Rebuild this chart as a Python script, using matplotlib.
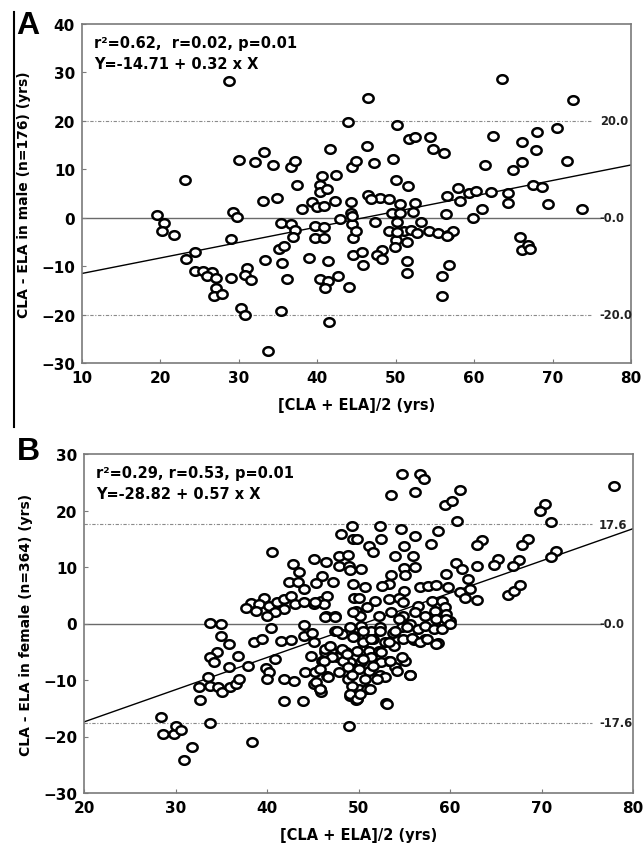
import numpy as np
import matplotlib
matplotlib.use("Agg")
import matplotlib.pyplot as plt
from matplotlib.path import Path
from matplotlib.lines import Line2D

plt.rcParams['font.family'] = ['DejaVu Sans']
plt.rcParams['font.weight'] = 'bold'

# ---- Panel A: male (n=176) ----
male_mean = [28.8, 43.9, 41.6, 30.0, 32.0, 33.2, 34.4, 36.7, 37.1, 44.4, 23.1, 40.6, 42.4, 37.4,
             40.4, 40.3, 41.2, 33.1, 34.9, 39.3, 42.2, 38.0, 40.0, 40.8, 44.3, 44.3, 19.6, 29.3,
             29.8, 42.9, 20.5, 20.2, 21.7, 35.4, 36.6, 37.1, 36.9, 39.7, 40.9, 44.4, 39.7, 40.9,
             44.6, 29.0, 24.4, 23.3, 35.1, 35.7, 44.6, 33.3, 35.5, 39.0, 41.4, 24.4, 25.4, 26.6,
             25.9, 27.1, 31.0, 30.8, 31.5, 29.0, 36.1, 40.3, 41.4, 41.0, 42.7, 44.0, 27.1, 26.8,
             27.8, 30.3, 30.8, 35.4, 41.5, 33.7,
             63.5, 46.5, 72.6, 50.2, 70.6, 68.0, 62.4, 66.1, 67.9, 51.7, 52.5, 54.4, 54.8, 56.2,
             46.4, 45.0, 47.2, 49.7, 61.4, 66.1, 71.9, 64.9, 50.1, 51.6, 67.5, 68.7, 46.5, 48.0,
             49.1, 50.5, 52.5, 46.9, 56.6, 57.9, 58.2, 59.3, 60.2, 62.2, 64.3, 64.3, 69.4, 73.8,
             61.0, 59.8, 56.4, 49.5, 50.6, 52.2, 47.4, 50.2, 53.2, 49.2, 51.0, 52.0, 52.7, 54.3,
             55.4, 56.7, 57.3, 50.1, 51.4, 49.9, 48.2, 47.6, 48.2, 45.7, 45.8, 51.4, 51.5, 55.9,
             56.8, 55.9, 65.8, 66.1, 66.9, 67.1, 44.9, 44.4, 56.6, 50.2]
male_diff = [28.2, 19.8, 14.2, 12.0, 11.6, 13.6, 10.9, 10.5, 11.8, 10.5, 7.7, 8.6, 8.9, 6.8,
             6.7, 5.3, 5.9, 3.4, 4.1, 3.2, 3.4, 1.7, 2.2, 2.5, 3.2, 1.0, 0.6, 1.2,
             0.2, -0.2, -1.0, -2.7, -3.5, -1.0, -1.2, -2.6, -4.0, -1.8, -1.9, -1.2, -4.1, -4.1,
             -4.1, -4.3, -7.1, -8.5, -6.5, -5.8, -7.8, -8.7, -9.3, -8.3, -9.0, -11.1, -10.9, -11.2,
             -12.0, -12.5, -10.4, -11.9, -12.9, -12.4, -12.6, -12.6, -13.0, -14.5, -12.0, -14.3, -14.5, -16.2,
             -15.8, -18.6, -20.0, -19.3, -21.5, -27.6,
             28.6, 24.7, 24.4, 19.2, 18.6, 17.8, 16.9, 15.6, 13.9, 16.2, 16.7, 16.7, 14.2, 13.4,
             14.9, 11.8, 11.3, 12.2, 10.9, 11.6, 11.7, 9.9, 7.7, 6.5, 6.7, 6.3, 4.6, 4.0,
             3.8, 2.9, 3.0, 3.9, 4.5, 6.1, 3.4, 5.1, 5.5, 5.4, 5.1, 3.1, 2.9, 1.9,
             1.7, 0.0, 0.8, 1.0, 1.0, 1.2, -0.9, -0.8, -0.9, -2.7, -2.8, -2.6, -3.1, -2.8,
             -3.1, -3.6, -2.8, -4.5, -5.0, -6.1, -6.6, -7.8, -8.6, -7.0, -9.8, -9.0, -11.4, -12.1,
             -9.8, -16.2, -3.9, -6.6, -5.7, -6.4, -2.8, 0.4, -3.7, -2.9]

# ---- Panel B: female (n=364) ----
female_mean = [49.3, 48.1, 49.4, 40.6, 45.1, 46.5, 47.9, 48.8, 47.9, 49.0, 42.8, 43.5, 46.0, 49.1,
               42.4, 43.4, 45.4, 47.2, 49.4, 44.0, 39.7, 38.2, 39.1, 37.7, 38.8, 40.2, 41.1, 41.9,
               42.6, 41.9, 40.9, 40.0, 43.1, 44.0, 45.1, 45.9, 46.6, 46.2, 46.4, 47.4, 49.5, 49.7,
               33.8, 35.0, 35.0, 35.8, 40.4, 44.0, 44.0, 38.6, 39.5, 41.5, 42.6, 47.4, 48.2, 49.1,
               49.5, 34.5, 33.8, 34.2, 36.8, 35.8, 37.9, 40.9, 39.9, 40.2, 44.8, 46.2, 47.0, 47.7,
               48.6, 49.1, 49.4, 44.2, 45.3, 46.6, 47.9, 48.8, 33.5, 32.6, 33.8, 34.6, 35.1, 36.0,
               36.6, 36.9, 40.0, 41.9, 43.0, 45.1, 45.8, 45.9, 32.7, 41.9, 43.9, 49.1, 49.7, 28.4,
               28.6, 29.8, 30.0, 30.6, 33.8, 31.8, 30.9, 38.4, 49.0, 46.0, 46.3,
               54.7, 56.7, 57.2, 53.6, 56.2, 61.1, 59.4, 60.2, 60.8, 77.9, 70.4, 69.8, 71.0, 52.4,
               54.6, 58.7, 56.2, 57.9, 52.5, 51.1, 51.6, 55.0, 54.0, 56.0, 49.8, 63.5, 62.9, 68.5,
               67.9, 71.6, 71.0, 65.3, 64.8, 67.5, 66.9, 62.9, 60.7, 61.3, 59.6, 55.0, 56.2, 53.6,
               55.1, 50.3, 53.3, 52.6, 50.7, 55.0, 56.7, 57.6, 58.5, 59.8, 61.1, 62.2, 62.0, 61.6,
               62.9, 66.3, 67.0, 67.6, 50.0, 51.8, 53.3, 54.4, 54.9, 56.5, 58.0, 59.1, 59.5, 58.4,
               59.6, 60.0, 59.3, 58.5, 57.3, 56.2, 54.9, 53.6, 52.2, 50.9, 50.2, 50.3, 51.4, 52.4,
               53.8, 54.7, 55.6, 56.5, 57.3, 58.3, 58.7, 57.3, 56.1, 54.9, 53.9, 52.9, 51.6, 50.5,
               49.8, 51.1, 52.2, 53.3, 55.1, 54.0, 55.6, 52.5, 51.4, 50.3, 52.3, 51.1, 50.0, 50.7,
               50.0, 50.9, 52.9, 49.8, 53.0,
               45.2, 46.3, 47.4, 47.6, 44.9, 45.1, 46.3, 46.9, 47.1, 48.2, 48.3, 48.7, 48.9, 46.2,
               45.8, 46.7, 45.4, 45.8, 49.3, 49.3, 49.1, 49.8, 49.4, 49.4,
               50.5, 51.4, 52.4, 53.3, 54.0, 54.4, 55.3, 55.8, 56.7, 57.5, 58.5, 59.1, 59.6, 60.0,
               50.5, 51.6, 52.5, 53.4, 54.2, 54.7, 55.6, 52.0, 51.3, 50.2, 53.1]
female_diff = [17.3, 15.8, 15.0, 12.7, 11.5, 10.8, 11.9, 12.1, 10.2, 10.1, 10.5, 9.1, 8.35, 9.4,
               7.3, 7.3, 7.1, 7.4, 7.0, 6.1, 4.6, 3.7, 3.45, 2.7, 2.3, 3.15, 3.75, 4.3,
               4.9, 2.6, 2.0, 1.4, 3.45, 3.75, 3.45, 4.0, 4.9, 3.45, 1.4, 1.4, 4.6, 2.3,
               0.1, -0.1, -2.15, -3.6, -0.85, -0.26, -2.15, -3.2, -2.7, -3.15, -3.0, -1.3, -1.85, -0.67,
               -2.15, -5.1, -6.0, -6.9, -5.7, -7.75, -7.5, -6.2, -7.9, -8.6, -5.7, -6.4, -4.8, -6.0,
               -5.1, -6.9, -8.05, -8.6, -8.6, -9.35, -8.6, -9.8, -9.5, -11.3, -11.0, -11.3, -12.2, -11.3,
               -10.7, -9.8, -9.9, -9.8, -10.2, -10.7, -11.6, -12.1, -13.5, -13.8, -13.65, -12.8, -13.5, -16.6,
               -19.55, -19.55, -18.2, -18.8, -17.6, -21.9, -24.2, -20.9, -18.1, -6.6, -5.0,
               26.5, 26.5, 25.6, 22.75, 23.3, 23.7, 21.0, 21.6, 18.1, 24.3, 21.2, 20.0, 17.9, 17.3,
               16.7, 16.3, 15.4, 14.1, 14.96, 13.8, 12.6, 13.8, 11.9, 11.9, 15.0, 14.85, 13.9, 14.96,
               13.9, 12.9, 11.7, 11.4, 10.4, 11.3, 10.1, 10.1, 10.65, 9.65, 8.77, 9.8, 9.95, 8.6,
               8.5, 9.65, 7.0, 6.6, 6.4, 5.8, 6.4, 6.7, 6.8, 6.4, 5.5, 6.1, 7.9, 4.6,
               4.2, 5.0, 5.8, 6.8, 4.6, 4.0, 4.3, 4.6, 3.75, 3.15, 3.9, 4.05, 2.85, 2.3,
               1.7, 0.5, 0.2, 0.8, 1.4, 2.0, 1.4, 2.0, 1.4, 2.85, 1.4, -0.4, -1.3, -0.67,
               -1.6, -0.67, -0.08, -0.97, -0.4, -0.97, -3.4, -2.7, -3.0, -2.7, -3.9, -3.3, -2.7, -3.3,
               -4.8, -4.8, -4.8, -6.6, -6.6, -7.75, -9.2, -6.9, -6.0, -6.9, -9.2, -8.35, -8.05, -9.8,
               -11.6, -11.6, -9.5, -13.35, -14.1,
               3.75, 1.1, 1.1, -1.3, -1.6, -3.3, -4.5, -3.9, -6.0, -4.5, -6.6, -5.4, -7.75, -6.6,
               -8.05, -9.5, -10.4, -11.6, -9.2, -11.0, -12.5, -13.4, -2.45, 2.0,
               -1.3, -2.7, -1.3, -3.3, -1.3, 0.8, -0.7, -2.5, -3.3, -2.7, -3.6, -1.0, 0.8, -0.1,
               -6.3, -7.5, -5.1, -6.6, -8.35, -6.0, -9.2, -9.8, -11.6, -12.5, -14.3]

# Regression fits and agreement limits
fit_a = (-14.71, 0.32)
fit_b = (-28.82, 0.57)
limits_a = [20.0, 0.0, -20.0]
limits_b = [17.6, 0.0, -17.6]
limit_text_a = ["20.0", "-0.0", "-20.0"]
limit_text_b = ["17.6", "-0.0", "-17.6"]
stats_a = ["r\u00b2=0.62,  r=0.02, p=0.01", "Y=-14.71 + 0.32 x X"]
stats_b = ["r\u00b2=0.29, r=0.53, p=0.01", "Y=-28.82 + 0.57 x X"]

# slightly flattened open-circle marker
t = np.linspace(0, 2 * np.pi, 64)
ellipse = Path(np.column_stack([1.2 * np.cos(t), np.sin(t)]), closed=True)

W, H = 644, 845
fig = plt.figure(figsize=(W / 100, H / 100), dpi=100)


def px_axes(l, t_, r, b):
    return fig.add_axes([l / W, 1 - b / H, (r - l) / W, (b - t_) / H])


ax_a = px_axes(82, 25, 631, 364)
ax_b = px_axes(84, 455, 633, 794)

frame_col = '#7a7a7a'
limit_col = '#8a8a8a'


def draw_panel(ax, xs, ys, fit, limits, limit_text, xlim, ylim, line_end, text_x,
               stats, ylabel):
    ax.set_xlim(*xlim)
    ax.set_ylim(*ylim)
    # agreement limits (dotted) and mean difference (solid)
    for v in limits:
        if v == 0:
            ax.plot([xlim[0], line_end + 1], [v, v], color='#6a6a6a', lw=1.0, zorder=1)
        else:
            ax.plot([xlim[0], line_end], [v, v], color=limit_col, lw=0.8,
                    ls=(0, (3, 1.5, 1, 1.5)), zorder=1)
    for v, s in zip(limits, limit_text):
        ax.text(text_x, v, s, fontsize=8.3, fontweight='bold', va='center', ha='left',
                color='#222222')
    # regression line
    xx = np.array(xlim, dtype=float)
    ax.plot(xx, fit[0] + fit[1] * xx, color='black', lw=1.0, zorder=2)
    # data
    ax.plot(xs, ys, ls='none', marker=ellipse, ms=7.4, mew=1.8, mec='black',
            mfc='white', zorder=3)
    # regression statistics
    ax.text(0.022, 0.968, stats[0], transform=ax.transAxes, fontsize=10.5,
            fontweight='bold', va='top', ha='left')
    ax.text(0.022, 0.905, stats[1], transform=ax.transAxes, fontsize=10.5,
            fontweight='bold', va='top', ha='left')
    ax.set_xticks(np.arange(xlim[0], xlim[1] + 1, 10))
    ax.set_yticks(np.arange(ylim[0], ylim[1] + 1, 10))
    ax.tick_params(direction='in', length=3, width=0.8, color=frame_col,
                   labelsize=11, pad=5)
    for lab in ax.get_xticklabels() + ax.get_yticklabels():
        lab.set_fontweight('bold')
    for sp in ax.spines.values():
        sp.set_color(frame_col)
        sp.set_linewidth(1.2)
    ax.set_xlabel('[CLA + ELA]/2 (yrs)', fontsize=10.5, fontweight='bold', labelpad=9)
    ax.set_ylabel(ylabel, fontsize=10, fontweight='bold', labelpad=7)


draw_panel(ax_a, male_mean, male_diff, fit_a, limits_a, limit_text_a, (10, 80), (-30, 40),
           75.0, 76.0, stats_a, 'CLA - ELA in male (n=176) (yrs)')
draw_panel(ax_b, female_mean, female_diff, fit_b, limits_b, limit_text_b, (20, 80), (-30, 30),
           75.5, 76.3, stats_b, 'CLA - ELA in female (n=364) (yrs)')

fig.text(16 / W, 1 - 26 / H, 'A', fontsize=23, fontweight='bold', va='center', ha='left',
         family='Liberation Sans')
fig.text(17 / W, 1 - 452 / H, 'B', fontsize=23, fontweight='bold', va='center', ha='left',
         family='Liberation Sans')
fig.add_artist(Line2D([13.5 / W, 13.5 / W], [1 - 13 / H, 1 - 428 / H], color='black', lw=1.5))

fig.savefig('out.png', dpi=100)
